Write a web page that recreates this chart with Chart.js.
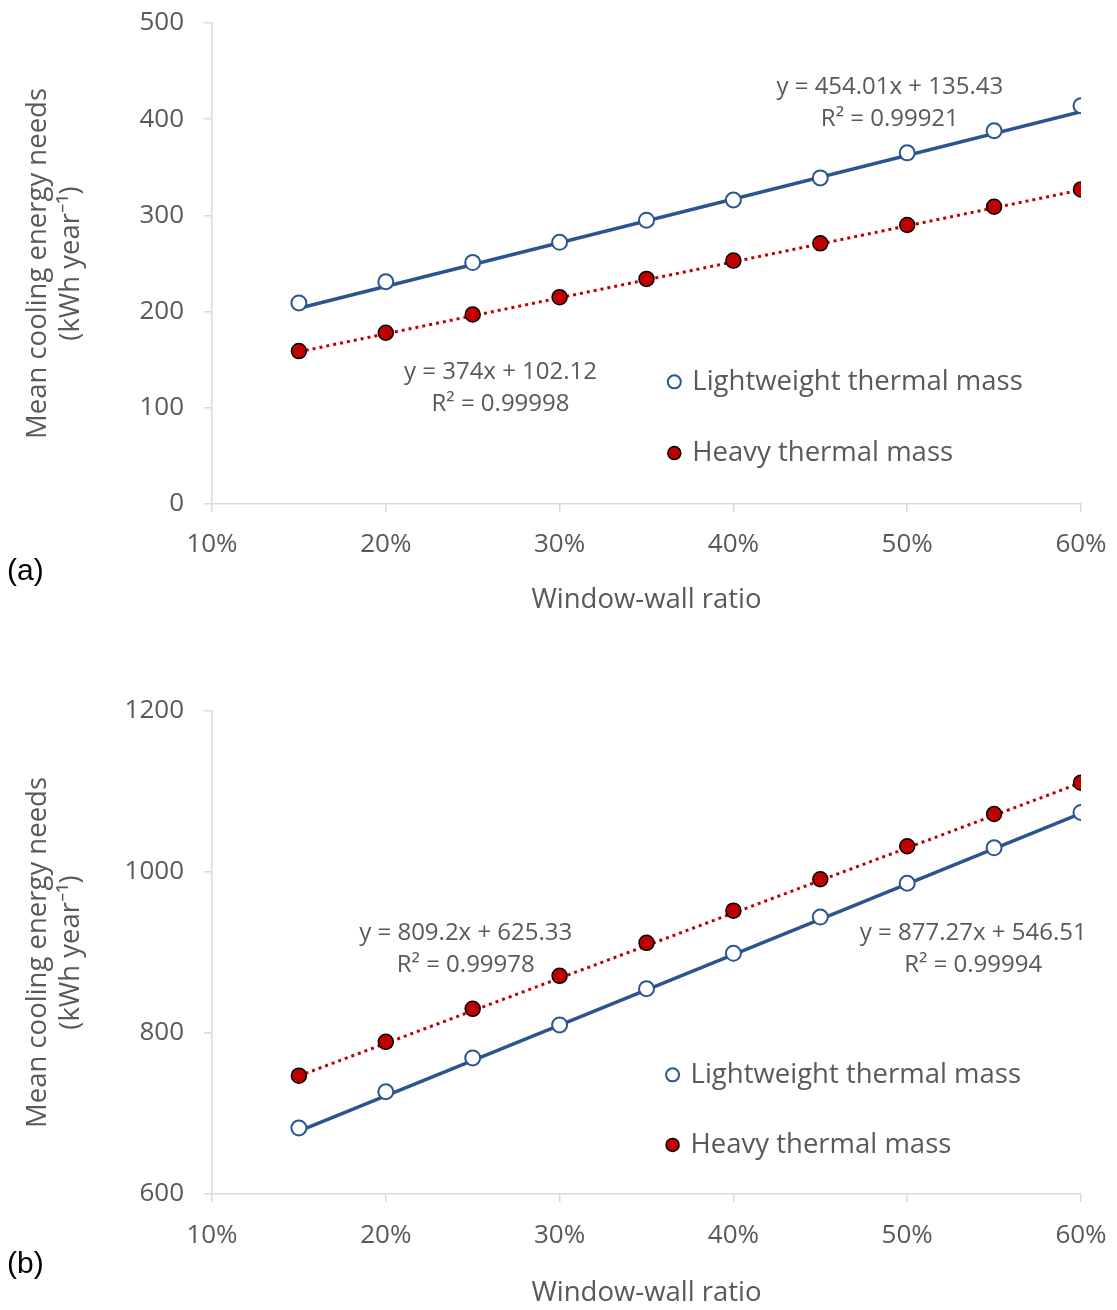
<!DOCTYPE html>
<html>
<head>
<meta charset="utf-8">
<script src="https://cdn.jsdelivr.net/npm/chart.js@4.4.1/dist/chart.umd.min.js"></script>
<style>
body { margin: 0; background: #fff; }
canvas { display: block; }
</style>
</head>
<body>
<canvas id="chartA" width="1117" height="655"></canvas>
<canvas id="chartB" width="1117" height="655"></canvas>
<script>
// window-wall ratio (%) for every simulated case
var wwr = [15, 20, 25, 30, 35, 40, 45, 50, 55, 60];
var xTicks = [10, 20, 30, 40, 50, 60];
var trendX = [15, 60];

// (a)
var lightA = [209, 231, 251, 272, 295, 316, 339, 365, 388, 414];
var heavyA = [159, 178, 197, 215, 234, 253, 271, 290, 309, 327];
var fitLightA = [454.01, 135.43, 0.99921];
var fitHeavyA = [374, 102.12, 0.99998];
var yTicksA = [0, 100, 200, 300, 400, 500];

// (b)
var lightB = [682, 727, 769, 810, 855, 899, 944, 986, 1030, 1074];
var heavyB = [747, 789, 830, 871, 912, 952, 991, 1032, 1072, 1111];
var fitLightB = [877.27, 546.51, 0.99994];
var fitHeavyB = [809.2, 625.33, 0.99978];
var yTicksB = [600, 800, 1000, 1200];

var seriesNames = ['Lightweight thermal mass', 'Heavy thermal mass'];

Chart.defaults.font.family = "'Open Sans', sans-serif";
Chart.defaults.color = '#595959';

var blue = '#2C5590';
var red = '#C00000';
var gray = '#595959';

function toPoints(xs, ys) {
    return ys.map((v, i) => ({ x: xs[i], y: v }));
}

function trend(fit) {
    return trendX.map(x => ({ x: x, y: fit[0] * x / 100 + fit[1] }));
}

function eqText(fit) {
    return ['y = ' + fit[0] + 'x + ' + fit[1], 'R\u00B2 = ' + fit[2]];
}

function makeChart(id, o) {
    var ctx = document.getElementById(id);

    var notes = {
        id: 'notes',
        afterDraw(chart) {
            var c = chart.ctx;
            var xs = chart.scales.x, ys = chart.scales.y;
            c.save();
            c.fillStyle = gray;
            c.textAlign = 'center';
            c.textBaseline = 'middle';
            c.font = "24px 'Open Sans'";
            o.eqs.forEach(e => {
                var px = xs.getPixelForValue(e.at[0]);
                var py = ys.getPixelForValue(e.at[1]);
                c.fillText(e.lines[0], px, py);
                c.fillText(e.lines[1], px, py + 32);
            });

            // legend inside the plot
            c.textAlign = 'left';
            c.font = "27.5px 'Open Sans'";
            o.legend.forEach((l, i) => {
                var px = xs.getPixelForValue(l[0]);
                var py = ys.getPixelForValue(l[1]);
                c.beginPath();
                c.arc(px, py, 6.5, 0, Math.PI * 2);
                if (i == 0) {
                    c.fillStyle = '#fff';
                    c.fill();
                    c.lineWidth = 2;
                    c.strokeStyle = blue;
                } else {
                    c.fillStyle = red;
                    c.fill();
                    c.lineWidth = 1.5;
                    c.strokeStyle = '#000';
                }
                c.stroke();
                c.fillStyle = gray;
                c.fillText(seriesNames[i], px + 18, py);
            });

            c.fillStyle = '#000';
            c.font = "30px 'Liberation Sans'";
            c.fillText(o.panel, 7, o.panelY);
            c.restore();
        }
    };

    return new Chart(ctx, {
        type: 'scatter',
        data: {
            datasets: [
                {
                    label: seriesNames[0],
                    data: toPoints(wwr, o.light),
                    pointRadius: 7.5,
                    pointBackgroundColor: '#fff',
                    pointBorderColor: blue,
                    pointBorderWidth: 2,
                    order: 0
                },
                {
                    label: seriesNames[1],
                    data: toPoints(wwr, o.heavy),
                    pointRadius: 7.5,
                    pointBackgroundColor: red,
                    pointBorderColor: '#000',
                    pointBorderWidth: 1.5,
                    order: 0
                },
                {
                    type: 'line',
                    data: trend(o.fitLight),
                    borderColor: blue,
                    borderWidth: 3.5,
                    pointRadius: 0,
                    fill: false,
                    order: 1
                },
                {
                    type: 'line',
                    data: trend(o.fitHeavy),
                    borderColor: red,
                    borderWidth: 3,
                    borderDash: [3, 4],
                    pointRadius: 0,
                    fill: false,
                    order: 1
                }
            ]
        },
        options: {
            responsive: false,
            animation: false,
            layout: { padding: { top: o.top, right: 36, left: 0, bottom: 0 } },
            plugins: { legend: { display: false }, tooltip: { enabled: false } },
            scales: {
                x: {
                    type: 'linear',
                    min: xTicks[0],
                    max: xTicks[xTicks.length - 1],
                    afterBuildTicks: s => { s.ticks = xTicks.map(v => ({ value: v })); },
                    ticks: { padding: o.xTickPad, font: { size: 26 }, callback: v => v + '%' },
                    grid: { drawOnChartArea: false, tickLength: 8, color: '#d9d9d9', lineWidth: 1.5 },
                    border: { color: '#d9d9d9', width: 1.5 },
                    title: {
                        display: true,
                        text: 'Window-wall ratio',
                        color: gray,
                        font: { size: 27.5, lineHeight: 1.2 },
                        padding: { top: 0, bottom: o.xTitlePad }
                    },
                    afterFit: s => {
                        s.height = o.xHeight;
                        s.paddingLeft = 0;
                        s.paddingRight = 0;
                    }
                },
                y: {
                    type: 'linear',
                    min: o.yTicks[0],
                    max: o.yTicks[o.yTicks.length - 1],
                    afterBuildTicks: s => { s.ticks = o.yTicks.map(v => ({ value: v })); },
                    ticks: { padding: 20, font: { size: 26 }, callback: v => String(v) },
                    grid: { drawOnChartArea: false, tickLength: 8, color: '#d9d9d9', lineWidth: 1.5 },
                    border: { color: '#d9d9d9', width: 1.5 },
                    title: {
                        display: true,
                        text: ['Mean cooling energy needs', '(kWh year\u207B\u00B9)'],
                        color: gray,
                        font: { size: 27.5, lineHeight: 1.2 },
                        padding: { top: 22, bottom: 0 }
                    },
                    afterFit: s => {
                        s.width = 212;
                        s.paddingTop = 0;
                        s.paddingBottom = 0;
                    }
                }
            }
        },
        plugins: [notes]
    });
}

makeChart('chartA', {
    light: lightA, heavy: heavyA,
    fitLight: fitLightA, fitHeavy: fitHeavyA,
    yTicks: yTicksA,
    top: 23, xHeight: 151, xTickPad: 17, xTitlePad: 38,
    eqs: [
        { at: [49.0, 433], lines: eqText(fitLightA) },
        { at: [26.6, 137], lines: eqText(fitHeavyA) }
    ],
    legend: [[36.6, 127], [36.6, 53]],
    panel: '(a)', panelY: 572
});

makeChart('chartB', {
    light: lightB, heavy: heavyB,
    fitLight: fitLightB, fitHeavy: fitHeavyB,
    yTicks: yTicksB,
    top: 56, xHeight: 116, xTickPad: 18, xTitlePad: 0,
    eqs: [
        { at: [24.6, 924], lines: eqText(fitHeavyB) },
        { at: [53.8, 924], lines: eqText(fitLightB) }
    ],
    legend: [[36.5, 748], [36.5, 661]],
    panel: '(b)', panelY: 610
});
</script>
</body>
</html>
